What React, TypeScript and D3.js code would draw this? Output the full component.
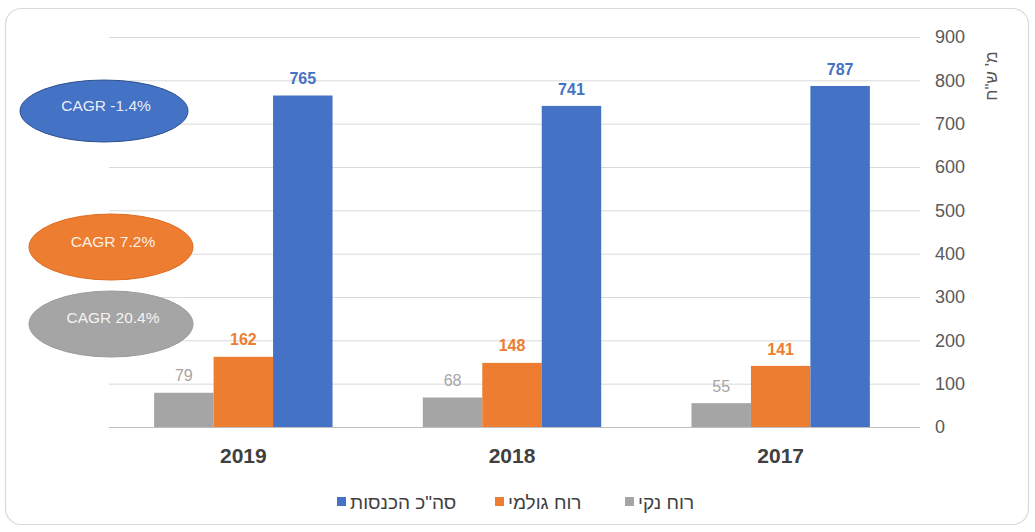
import React from "react";
import * as d3 from "d3";

const years = ["2019", "2018", "2017"];
const seriesNames = ["רוח נקי", "רוח גולמי", 'סה"כ הכנסות'];
const netProfit = [79, 68, 55];
const grossProfit = [162, 148, 141];
const revenue = [765, 741, 787];
const yTicks = [0, 100, 200, 300, 400, 500, 600, 700, 800, 900];
const cagrLabels = ["CAGR -1.4%", "CAGR 7.2%", "CAGR 20.4%"];
const axisTitle = 'מ\' ש"ח';

const colors = ["#a5a5a5", "#ed7d31", "#4472c4"];
const labelColors = ["#a5a5a5", "#ed7d31", "#4472c4"];
const labelWeights = ["normal", "bold", "bold"];

export default function App() {
  const W = 1035;
  const H = 532;
  const values = [netProfit, grossProfit, revenue];
  const x0 = d3.scaleBand<string>().domain(years).range([109, 915]).paddingInner(0.336).paddingOuter(0.168);
  const x1 = d3.scaleBand<number>().domain([0, 1, 2]).range([0, x0.bandwidth()]);
  const y = d3.scaleLinear().domain([0, 900]).range([427, 37]);
  const font = "'Liberation Sans', Arial, sans-serif";

  const ellipses = [
    { cx: 104, cy: 111, rx: 84, ry: 31, fill: "#4472c4", stroke: "#2f528f", ty: 106 },
    { cx: 111, cy: 247, rx: 82, ry: 33, fill: "#ed7d31", stroke: "#e06b1f", ty: 242 },
    { cx: 111, cy: 324, rx: 82, ry: 33, fill: "#a5a5a5", stroke: "#9a9a9a", ty: 318 },
  ];

  const legendItems = [
    { sq: 337, idx: 2 },
    { sq: 495, idx: 1 },
    { sq: 625, idx: 0 },
  ];

  return (
    <div style={{ position: "absolute", left: 0, top: 0 }}>
      <svg width={W} height={H} style={{ display: "block", fontFamily: font }}>
        <rect x={0} y={0} width={W} height={H} fill="#ffffff" />
        <rect x={5.5} y={8.5} width={1023} height={516} rx={16} fill="#ffffff" stroke="#d9d9d9" strokeWidth={1.2} />
        {yTicks.map((t) => (
          <g key={t}>
            <line x1={109} x2={920} y1={y(t) + 0.5} y2={y(t) + 0.5} stroke={t === 0 ? "#bfbfbf" : "#d9d9d9"} strokeWidth={1} />
            <text x={935} y={y(t)} dy="0.35em" fontSize={18} fill="#595959">
              {t}
            </text>
          </g>
        ))}
        <text
          transform="translate(991,76) rotate(-90)"
          textAnchor="middle"
          dy="0.35em"
          fontSize={17}
          fill="#595959"
          direction="rtl"
        >
          {axisTitle}
        </text>
        {years.map((yr, i) => (
          <g key={yr} transform={`translate(${x0(yr)},0)`}>
            {values.map((vals, s) => (
              <g key={s}>
                <rect x={x1(s)} y={y(vals[i])} width={x1.bandwidth()} height={y(0) - y(vals[i])} fill={colors[s]} />
                <text
                  x={(x1(s) as number) + x1.bandwidth() / 2}
                  y={y(vals[i]) - 17}
                  textAnchor="middle"
                  dy="0.35em"
                  fontSize={16}
                  fontWeight={labelWeights[s]}
                  fill={labelColors[s]}
                >
                  {vals[i]}
                </text>
              </g>
            ))}
            <text
              x={x0.bandwidth() / 2}
              y={456}
              textAnchor="middle"
              dy="0.35em"
              fontSize={21}
              fontWeight="bold"
              fill="#404040"
            >
              {yr}
            </text>
          </g>
        ))}
        {ellipses.map((e, i) => (
          <g key={i}>
            <ellipse cx={e.cx} cy={e.cy} rx={e.rx} ry={e.ry} fill={e.fill} stroke={e.stroke} strokeWidth={1} />
            <text x={e.cx + 2} y={e.ty} textAnchor="middle" dy="0.35em" fontSize={15.5} fill="#ffffff" fillOpacity={0.9}>
              {cagrLabels[i]}
            </text>
          </g>
        ))}
        {legendItems.map((l) => (
          <g key={l.idx}>
            <rect x={l.sq} y={497} width={9} height={9} fill={colors[l.idx]} />
            <text x={l.sq + 13} y={502} textAnchor="end" dy="0.35em" fontSize={19} fill="#404040" direction="rtl">
              {seriesNames[l.idx]}
            </text>
          </g>
        ))}
      </svg>
    </div>
  );
}
